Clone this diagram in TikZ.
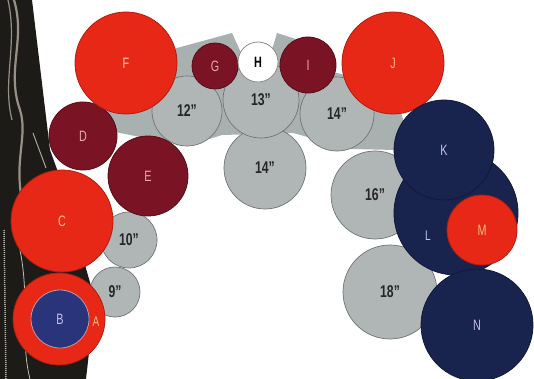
\documentclass[tikz,border=0pt]{standalone}
\usepackage{fontspec}
\newfontfamily\cond[FakeStretch=0.72]{Liberation Sans}
\definecolor{cred}{RGB}{232,40,22}
\definecolor{cmaroon}{RGB}{122,20,36}
\definecolor{cnavy}{RGB}{24,36,78}
\definecolor{cblue}{RGB}{42,52,122}
\definecolor{cgray}{RGB}{176,182,182}
\definecolor{cfill}{RGB}{168,176,176}
\definecolor{cphoto}{RGB}{28,27,24}
\definecolor{ccable}{RGB}{150,145,130}
\definecolor{lpink}{RGB}{252,196,186}
\definecolor{lmar}{RGB}{232,168,178}
\definecolor{llav}{RGB}{200,192,232}
\definecolor{lorange}{RGB}{255,190,130}
\tikzset{
  disc/.style={circle,inner sep=0pt,line width=0.8pt,font=\cond\fontsize{15}{15}\selectfont},
  redc/.style={disc,fill=cred,draw=cred!75!black,text=lpink},
  marc/.style={disc,fill=cmaroon,draw=cmaroon!70!black,text=lmar},
  navc/.style={disc,fill=cnavy,draw=cnavy!70!black,text=llav},
  grayc/.style={disc,fill=cgray,draw=black!55,line width=0.7pt,text=black!85,font=\cond\bfseries\fontsize{17}{17}\selectfont},
  whitec/.style={disc,fill=white,draw=black!45,text=black,font=\cond\bfseries\fontsize{15}{15}\selectfont},
  lbl/.style={inner sep=0pt,font=\cond\fontsize{14}{14}\selectfont}
}
\begin{document}
\begin{tikzpicture}[x=1pt,y=-1pt]
\useasboundingbox (0,0) rectangle (534,379);
\fill[white] (0,0) rectangle (534,379);
% photo strip on the left
\fill[cphoto] (0,0) -- (32,0) -- (38,50) -- (44,100) -- (50,150) -- (58,172) -- (75,200) -- (85,265) -- (95,300) -- (86,379) -- (0,379) -- cycle;
\draw[ccable,line width=2.2pt] (14,0) .. controls (26,40) and (6,70) .. (20,110) .. controls (28,135) and (14,160) .. (22,200);
\draw[ccable,line width=1.2pt] (8,0) .. controls (18,45) and (2,80) .. (12,120);
\draw[ccable!80,line width=1pt] (33,133) -- (46,168);
\draw[ccable!70,line width=1.5pt,dashed,dash pattern=on 1pt off 1pt] (4,230) -- (6,379);
\draw[ccable!60,line width=0.8pt] (20,250) .. controls (30,300) and (20,340) .. (30,379);
% grey filler behind the arch
\fill[cfill] (105,105) -- (150,55) -- (177,48) -- (232,33) -- (242,55) -- (272,50) -- (277,33) -- (305,42)
  -- (325,70) -- (345,75) -- (400,110) -- (405,125) -- (395,150) -- (352,149) -- (293,133)
  -- (222,135) -- (190,145) -- (155,140) -- (115,132) -- cycle;
% grey drum circles
\node[grayc,minimum size=82pt] (t14b) at (265,168) {14”};
\node[grayc,minimum size=76pt] (t13) at (261,100) {13”};
\node[grayc,minimum size=70pt] (t12) at (187,111) {12”};
\node[grayc,minimum size=74pt] (t14a) at (337,114) {14”};
\node[grayc,minimum size=88pt] (t16) at (375,195) {16”};
\node[grayc,minimum size=94pt] (t18) at (390,292) {18”};
\node[grayc,minimum size=56pt] (t10) at (129,240) {10”};
\node[grayc,minimum size=50pt] (t9) at (115,292) {9”};
% coloured circles
\node[marc,minimum size=68pt] (D) at (83,136) {D};
\node[marc,minimum size=80pt] (E) at (148,176) {E};
\node[redc,minimum size=102pt] (F) at (126,63) {F};
\node[redc,minimum size=102pt,text=lorange] (C) at (62,221) {C};
\node[redc,minimum size=92pt] (A) at (59,319) {};
\node[disc,fill=cblue,draw=lpink!70!cblue,line width=0.8pt,text=llav,minimum size=58pt] (B) at (60,319) {B};
\node[lbl,text=lorange] (Alab) at (96,322) {A};
\node[marc,minimum size=46pt] (G) at (215,66) {G};
\node[whitec,minimum size=40pt] (H) at (258,62) {H};
\node[marc,minimum size=56pt] (I) at (308,65) {I};
\node[redc,minimum size=102pt,text=lorange] (J) at (393,63) {J};
\node[navc,minimum size=124pt,text=llav] (L) at (456,213) {};
\node[lbl,text=llav] (Llab) at (428,236) {L};
\node[navc,minimum size=112pt] (N) at (477,325) {N};
\node[navc,minimum size=100pt] (K) at (444,150) {K};
\node[redc,minimum size=70pt,text=lorange] (M) at (482,230) {M};
\end{tikzpicture}
\end{document}
